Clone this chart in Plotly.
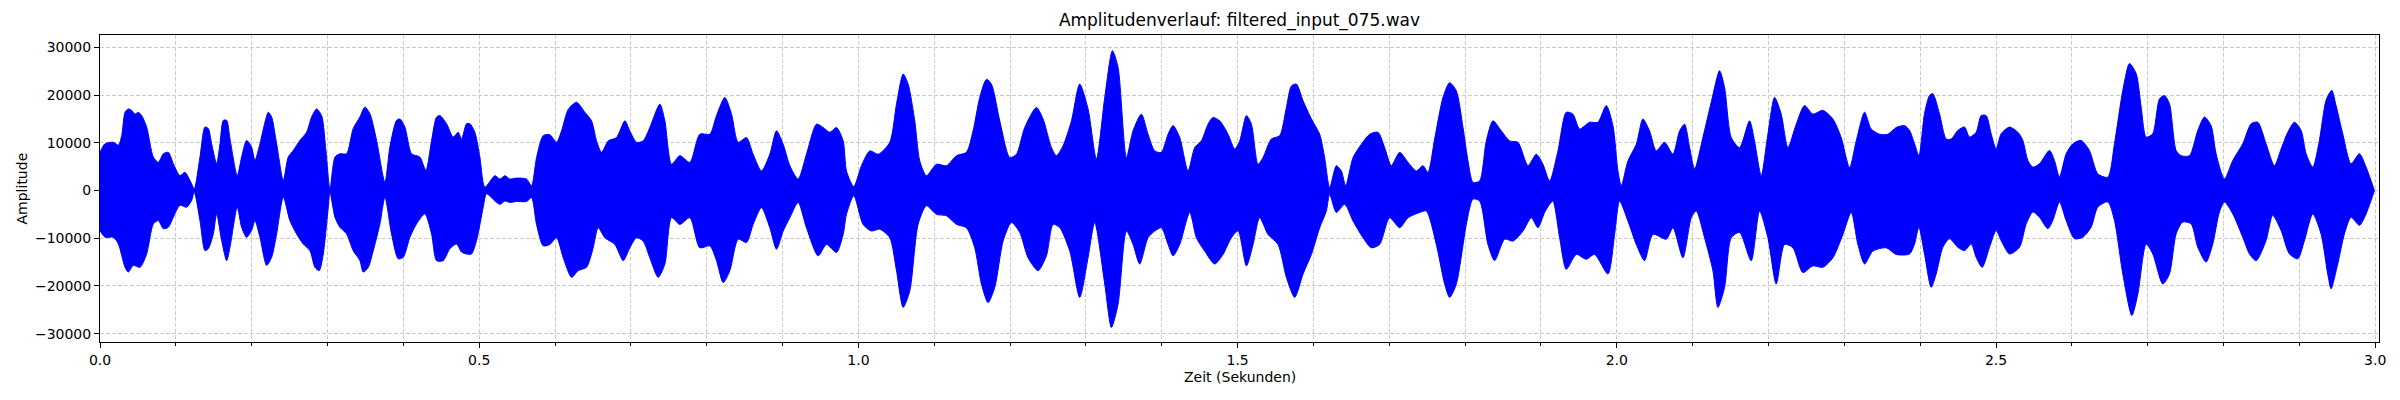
"""
Amplitude envelope of filtered_input_075.wav, read off the reference plot.
"""
import plotly.graph_objects as go

# ── data ─────────────────────────────────────────────────────────────────────
# upper envelope: time (s) and peak amplitude
t_upper = [
    0.000, 0.0066, 0.0176, 0.0242, 0.0286, 0.0330, 0.0373, 0.0417, 0.0461, 0.0505,
    0.0549, 0.0615, 0.0703, 0.0769, 0.0835, 0.0901, 0.0967, 0.1054, 0.1120, 0.1208,
    0.1243, 0.1318, 0.1384, 0.1428, 0.1472, 0.1538, 0.1582, 0.1626, 0.1670, 0.1714,
    0.1810, 0.1867, 0.1933, 0.1999, 0.2043, 0.2109, 0.2175, 0.2219, 0.2263, 0.2329,
    0.2417, 0.2482, 0.2548, 0.2636, 0.2724, 0.2790, 0.2856, 0.2922, 0.2979, 0.3032,
    0.3098, 0.3163, 0.3251, 0.3339, 0.3427, 0.3493, 0.3559, 0.3647, 0.3757, 0.3822,
    0.3910, 0.3954, 0.4020, 0.4108, 0.4218, 0.4297, 0.4372, 0.4438, 0.4482, 0.4569,
    0.4657, 0.4723, 0.4767, 0.4833, 0.4877, 0.4943, 0.5009, 0.5075,
    0.5207, 0.5273, 0.5339, 0.5405, 0.5493, 0.5624, 0.5690, 0.5756, 0.5844, 0.5932,
    0.6020, 0.6086, 0.6174, 0.6283, 0.6393, 0.6481, 0.6547, 0.6613, 0.6701, 0.6811,
    0.6921, 0.6986, 0.7074, 0.7162, 0.7250, 0.7382, 0.7448, 0.7536, 0.7646, 0.7777,
    0.7909, 0.8041, 0.8129, 0.8239, 0.8327, 0.8415, 0.8524, 0.8612, 0.8722, 0.8832,
    0.8920, 0.9008, 0.9096, 0.9205, 0.9315, 0.9447, 0.9535, 0.9623, 0.9711, 0.9799,
    0.9843, 0.9939, 1.0040, 1.0150, 1.0260, 1.0414, 1.0502, 1.0590, 1.0656, 1.0743,
    1.0809, 1.0897, 1.1029, 1.1161, 1.1293, 1.1424, 1.1512, 1.1600, 1.1688, 1.1754,
    1.1864, 1.1996, 1.2084, 1.2193, 1.2347, 1.2435, 1.2545, 1.2611, 1.2699, 1.2809,
    1.2918, 1.3028, 1.3138, 1.3248, 1.3349, 1.3424, 1.3534, 1.3621, 1.3731, 1.3819,
    1.3907, 1.3995, 1.4083, 1.4149, 1.4237, 1.4347,
    1.4435, 1.4522, 1.4610, 1.4676, 1.4764, 1.4874, 1.4962, 1.5028, 1.5116, 1.5182,
    1.5269, 1.5335, 1.5445, 1.5555, 1.5643, 1.5709, 1.5775, 1.5863, 1.5973, 1.6082,
    1.6148, 1.6214, 1.6302, 1.6368, 1.6425, 1.6522, 1.6632, 1.6741, 1.6851, 1.6939,
    1.7027, 1.7137, 1.7247, 1.7357, 1.7444, 1.7510, 1.7598, 1.7708, 1.7796, 1.7884,
    1.7972, 1.8038, 1.8104, 1.8191, 1.8279, 1.8367, 1.8477, 1.8587, 1.8697, 1.8829,
    1.8938, 1.9026, 1.9114,
    1.9224, 1.9334, 1.9422, 1.9510, 1.9641, 1.9751, 1.9861, 1.9949, 2.0015, 2.0059,
    2.0147, 2.0257, 2.0344, 2.0432, 2.0520, 2.0630, 2.0740, 2.0828, 2.0894, 2.0960,
    2.1026, 2.1135, 2.1245, 2.1355, 2.1421, 2.1509, 2.1619, 2.1750, 2.1816, 2.1904,
    2.1992, 2.2080, 2.2168, 2.2256, 2.2366, 2.2475, 2.2585, 2.2717, 2.2849, 2.2959,
    2.3069, 2.3157, 2.3267, 2.3354, 2.3464, 2.3574, 2.3684,
    2.3794, 2.3860, 2.3926, 2.3983, 2.4057, 2.4123, 2.4167, 2.4255, 2.4343, 2.4409,
    2.4497, 2.4585, 2.4651, 2.4738, 2.4804, 2.4870, 2.4936, 2.5002, 2.5068, 2.5178,
    2.5288, 2.5354, 2.5420, 2.5486, 2.5573, 2.5705, 2.5771, 2.5837, 2.5925, 2.6013,
    2.6123, 2.6232, 2.6342, 2.6474, 2.6562, 2.6672, 2.6760, 2.6848, 2.6914, 2.6980,
    2.7067, 2.7155, 2.7221, 2.7287, 2.7375, 2.7441, 2.7551, 2.7661, 2.7749, 2.7836,
    2.7902, 2.8012, 2.8122, 2.8254, 2.8364, 2.8452, 2.8561, 2.8671, 2.8759, 2.8847,
    2.8935, 2.9023, 2.9089, 2.9177, 2.9264, 2.9352, 2.9427, 2.9484, 2.9572, 2.9682,
    2.9792, 2.9880, 2.9990,
]
a_upper = [
    8000, 9800, 10100, 9500, 11500, 16400, 17100, 16800, 16000, 16400,
    15700, 13300, 7000, 5900, 7700, 8000, 5600, 3100, 3800, 1400,
    300, 7000, 13300, 13000, 9800, 5600, 9800, 14700, 14700, 10800,
    3100, 7000, 10500, 9100, 6300, 9800, 14300, 16400, 15400, 9800,
    2100, 7000, 8400, 10500, 12200, 15400, 17100, 15700, 8400, 300,
    7000, 7700, 7700, 13000, 15400, 17500, 16100, 10500, 1700, 9100,
    14700, 15000, 13300, 7700, 7000, 4200, 10500, 15400, 15700, 14000,
    11200, 12200, 10800, 14000, 14000, 12200, 7000, 700,
    3100, 2400, 3100, 2400, 2600, 2400, 1000, 6900, 11500, 11700,
    10100, 12500, 17000, 18500, 16400, 14600, 10400, 8000, 10400, 11100,
    14600, 12500, 10100, 10400, 13200, 18100, 14600, 5500, 7300, 5900,
    11800, 11800, 15700, 19500, 16000, 10100, 11100, 7600, 4100, 7600,
    12500, 9700, 5200, 2400, 7600, 13900, 13200, 12200, 13200, 10400,
    4100, 800, 5200, 8300, 7600, 10100, 18100, 24400, 22300, 14600,
    6200, 3100, 5500, 5200, 7300, 8000, 12500, 19500, 23300, 22300,
    14600, 6900, 7600, 13200, 17400, 15000, 9000, 7300, 9400, 14600,
    22300, 17100, 6600, 19500, 29300, 25800, 6900, 12500, 16000, 11800,
    8300, 8000, 11800, 13600, 11100, 4100,
    9000, 10400, 13900, 15300, 14600, 11800, 8700, 10400, 15700, 13900,
    5500, 6900, 10800, 11500, 17400, 21900, 22300, 18800, 15000, 11800,
    6900, 600, 5200, 4100, 1000, 6900, 9700, 11800, 12200, 9000,
    5200, 8000, 5900, 4100, 5200, 3800, 10800, 19500, 22600, 20900,
    13200, 6200, 1700, 2000, 10400, 14600, 12500, 10400, 10100, 5200,
    7600, 5500, 2000,
    8300, 16400, 16000, 12900, 14300, 14300, 17800, 13600, 4100, 1000,
    6200, 9700, 15000, 12500, 8300, 10100, 7600, 12500, 13900, 9000,
    4500, 11100, 18500, 25100, 21600, 11100, 9000, 14600, 10400, 3100,
    11800, 19500, 16000, 9000, 13900, 17800, 16000, 16800, 15000, 11100,
    4800, 10400, 16400, 12900, 11800, 11800, 13200,
    13600, 12600, 9800, 7300, 16100, 19900, 20300, 16100, 10800, 10800,
    12600, 13300, 11200, 12200, 15700, 15700, 11900, 8700, 11900, 13300,
    12200, 10500, 6300, 4900, 5600, 8400, 6300, 2800, 7700, 9800,
    10500, 8400, 3500, 2800, 9800, 21000, 26600, 24500, 17500, 11200,
    11900, 19200, 19900, 18200, 8400, 7300, 7300, 12600, 15400, 13600,
    7700, 2400, 6300, 9800, 14000, 14300, 9800, 5200, 8700, 12200,
    14300, 12600, 7700, 4900, 10500, 18900, 21000, 17800, 11900, 5600,
    7700, 4900, 0,
]

# lower envelope: time (s) and trough amplitude
t_lower = [
    0.000, 0.0066, 0.0176, 0.0242, 0.0330, 0.0373, 0.0439, 0.0527, 0.0615, 0.0703,
    0.0769, 0.0835, 0.0901, 0.0967, 0.1054, 0.1142, 0.1208, 0.1243, 0.1318, 0.1384,
    0.1428, 0.1494, 0.1538, 0.1604, 0.1670, 0.1714, 0.1810, 0.1867, 0.1933, 0.1999,
    0.2043, 0.2109, 0.2197, 0.2263, 0.2329, 0.2417, 0.2504, 0.2592, 0.2680, 0.2768,
    0.2834, 0.2891, 0.2944, 0.3010, 0.3032, 0.3098, 0.3163, 0.3251, 0.3339, 0.3427,
    0.3471, 0.3537, 0.3603, 0.3691, 0.3757, 0.3844, 0.3932, 0.3998, 0.4086, 0.4174,
    0.4284, 0.4372, 0.4438, 0.4525, 0.4613, 0.4701, 0.4767, 0.4833, 0.4899, 0.4965,
    0.5053, 0.5097,
    0.5207, 0.5273, 0.5339, 0.5405, 0.5493, 0.5624, 0.5690, 0.5756, 0.5844, 0.5932,
    0.6020, 0.6108, 0.6218, 0.6305, 0.6415, 0.6503, 0.6569, 0.6657, 0.6789, 0.6899,
    0.6986, 0.7074, 0.7162, 0.7250, 0.7360, 0.7448, 0.7536, 0.7646, 0.7777, 0.7909,
    0.8041, 0.8129, 0.8217, 0.8305, 0.8415, 0.8524, 0.8612, 0.8722, 0.8832, 0.8920,
    0.9008, 0.9096, 0.9205, 0.9315, 0.9469, 0.9579, 0.9711, 0.9799,
    0.9843, 0.9939, 1.0062, 1.0172, 1.0282, 1.0414, 1.0502, 1.0590, 1.0678, 1.0787,
    1.0897, 1.1029, 1.1161, 1.1293, 1.1424, 1.1534, 1.1622, 1.1710, 1.1798, 1.1908,
    1.2018, 1.2128, 1.2237, 1.2369, 1.2479, 1.2567, 1.2655, 1.2787, 1.2918, 1.3028,
    1.3116, 1.3248, 1.3336, 1.3424, 1.3534, 1.3621, 1.3709, 1.3819, 1.3907, 1.3995,
    1.4083, 1.4149, 1.4237, 1.4369,
    1.4457, 1.4566, 1.4698, 1.4808, 1.4918, 1.5006, 1.5116, 1.5204, 1.5291, 1.5401,
    1.5533, 1.5643, 1.5753, 1.5863, 1.5973, 1.6082, 1.6170, 1.6214, 1.6302, 1.6412,
    1.6522, 1.6654, 1.6763, 1.6873, 1.7005, 1.7137, 1.7247, 1.7401, 1.7488, 1.7620,
    1.7730, 1.7796, 1.7884, 1.8016, 1.8104, 1.8191, 1.8301, 1.8389, 1.8521, 1.8631,
    1.8763, 1.8873, 1.8960, 1.9048, 1.9114,
    1.9158, 1.9246, 1.9334, 1.9466, 1.9597, 1.9707, 1.9883, 1.9971, 2.0037, 2.0147,
    2.0257, 2.0366, 2.0476, 2.0652, 2.0740, 2.0872, 2.0982, 2.1048, 2.1157, 2.1267,
    2.1333, 2.1421, 2.1509, 2.1619, 2.1772, 2.1882, 2.1992, 2.2102, 2.2212, 2.2322,
    2.2453, 2.2585, 2.2717, 2.2849, 2.2981, 2.3091, 2.3179, 2.3267, 2.3376, 2.3552,
    2.3684,
    2.3860, 2.3926, 2.3983, 2.4057, 2.4145, 2.4211, 2.4299, 2.4387, 2.4497, 2.4585,
    2.4673, 2.4738, 2.4818, 2.4914, 2.5002, 2.5068, 2.5178, 2.5310, 2.5398, 2.5486,
    2.5573, 2.5683, 2.5749, 2.5837, 2.5925, 2.6035, 2.6145, 2.6254, 2.6342, 2.6474,
    2.6562, 2.6672, 2.6791, 2.6870, 2.6980, 2.7067, 2.7199, 2.7287, 2.7375, 2.7463,
    2.7573, 2.7661, 2.7770, 2.7858, 2.7946, 2.8012, 2.8122, 2.8254, 2.8342, 2.8430,
    2.8561, 2.8649, 2.8759, 2.8869, 2.8979, 2.9067, 2.9177, 2.9286, 2.9374, 2.9418,
    2.9506, 2.9594, 2.9682, 2.9792, 2.9880, 2.9990,
]
a_lower = [
    -8400, -9800, -9800, -11200, -16100, -17100, -15700, -16100, -13300, -7000,
    -6300, -8000, -7700, -5600, -3100, -3500, -2100, -300, -6300, -12600,
    -12200, -9100, -4900, -10500, -14700, -11900, -3500, -7700, -9800, -8400,
    -6300, -9800, -15700, -14000, -9100, -1400, -6300, -9100, -11200, -12600,
    -16100, -16800, -13300, -3500, -300, -5600, -7700, -9100, -12600, -14700,
    -17100, -16100, -12600, -7000, -1400, -9100, -14300, -14000, -9800, -7000,
    -4900, -9100, -14700, -14700, -12200, -11200, -12900, -13300, -13300, -10500,
    -3500, -700,
    -2200, -2900, -2200, -2500, -2300, -2300, -1500, -7100, -11600, -11300,
    -9900, -14100, -18200, -16800, -16100, -12000, -7800, -9900, -11300, -14700,
    -12000, -9900, -10600, -14100, -18200, -15400, -5700, -7100, -5700, -12000,
    -11600, -14700, -19300, -16800, -10200, -10900, -7100, -3600, -7800, -12300,
    -8500, -5700, -2500, -7800, -13700, -11300, -13000, -9200,
    -5000, -1100, -7100, -8500, -8100, -9900, -16800, -24500, -21000, -7100,
    -3200, -5000, -5300, -7100, -7800, -12000, -19600, -23500, -20300, -10600,
    -6700, -8800, -14100, -16800, -13700, -7100, -7800, -12700, -22400, -14100,
    -6700, -19600, -28700, -23800, -8500, -11300, -15400, -9900, -8500, -7800,
    -11300, -13700, -11300, -4600,
    -9900, -12700, -15400, -13400, -9900, -8500, -15800, -11300, -5700, -9200,
    -11300, -18200, -22400, -17500, -13400, -7800, -4300, -800, -4600, -2900,
    -6400, -9900, -12000, -11300, -5700, -7800, -5700, -4600, -4300, -11300,
    -19600, -22400, -19600, -7100, -1800, -2200, -11300, -14700, -10200, -10600,
    -8500, -5700, -7800, -4600, -2900,
    -2200, -9900, -16500, -13400, -14400, -13400, -17500, -9200, -2200, -6400,
    -11300, -14700, -9200, -10200, -7800, -14100, -5700, -4300, -9900, -16800,
    -24500, -20300, -9900, -8800, -14700, -4300, -9900, -19600, -11300, -12000,
    -17200, -15800, -16100, -14100, -9200, -4600, -11300, -15400, -12700, -12000,
    -13400,
    -13300, -11200, -7700, -13300, -20300, -17500, -11900, -10100, -11900, -12600,
    -11200, -14000, -16100, -11900, -8400, -10500, -13300, -11900, -7000, -4500,
    -5600, -8000, -6300, -2400, -6300, -10100, -9800, -7700, -3500, -2400,
    -6300, -17500, -26200, -21700, -11200, -13300, -19600, -17500, -9100, -6600,
    -7000, -11900, -15000, -11200, -4500, -2400, -4900, -9800, -13300, -14700,
    -10500, -5200, -8400, -13300, -14300, -10500, -4900, -9100, -17500, -20600,
    -15400, -9100, -5600, -7300, -4900, 0,
]

title = "Amplitudenverlauf: filtered_input_075.wav"
x_label = "Zeit (Sekunden)"
y_label = "Amplitude"

# ── figure ───────────────────────────────────────────────────────────────────
FONT = "DejaVu Sans"
GRID = "#cbcbcb"
BLUE = "#0000ff"

fig = go.Figure()
fig.add_trace(go.Scatter(
    x=t_upper + t_lower[::-1],
    y=a_upper + a_lower[::-1],
    mode="lines",
    fill="toself",
    fillcolor=BLUE,
    line=dict(color=BLUE, width=1, shape="spline", smoothing=0.7),
    hoverinfo="skip",
    showlegend=False,
))

axis_common = dict(
    showline=True, linecolor="black", linewidth=1, mirror=True,
    ticks="outside", ticklen=5, tickwidth=1, tickcolor="black",
    showgrid=True, gridcolor=GRID, gridwidth=1, griddash="4px,2px",
    zeroline=False,
    tickfont=dict(family=FONT, size=14, color="black"),
)

fig.update_xaxes(
    range=[0, 3.005], tick0=0, dtick=0.5, tickformat=".1f",
    minor=dict(dtick=0.1, tick0=0, ticks="outside", ticklen=3, tickcolor="black",
               showgrid=True, gridcolor=GRID, griddash="4px,2px"),
    **axis_common,
)
fig.update_yaxes(
    range=[-31750, 32590], tick0=0, dtick=10000, tickformat="d",
    **axis_common,
)

fig.update_layout(
    width=2400, height=400,
    margin=dict(l=100, r=21, t=35, b=58),
    paper_bgcolor="white", plot_bgcolor="white",
    font=dict(family=FONT, color="black"),
    title=dict(text=title, x=(100 + 2379) / 2 / 2400, xanchor="center",
               y=1 - 20 / 400, yanchor="middle", yref="container",
               font=dict(family=FONT, size=17, color="black")),
    annotations=[
        dict(text=x_label, xref="paper", yref="paper", x=0.5, y=0,
             xanchor="center", yanchor="middle", yshift=-35, showarrow=False,
             font=dict(family=FONT, size=14, color="black")),
        dict(text=y_label, xref="paper", yref="paper", x=0, y=0.5,
             xanchor="center", yanchor="middle", xshift=-79, textangle=-90,
             showarrow=False, font=dict(family=FONT, size=14, color="black")),
    ],
)

# the page's default body margin would shift the whole figure by 8 px
fig.write_html(
    "out.html",
    config={"displayModeBar": False, "staticPlot": True},
    post_script="document.body.style.margin = '0';",
)
